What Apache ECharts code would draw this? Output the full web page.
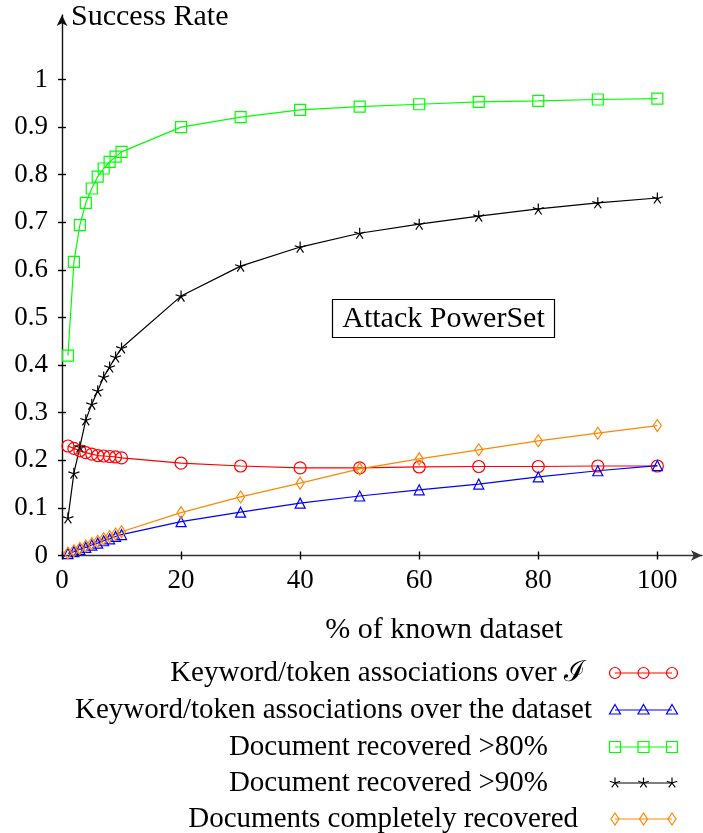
<!DOCTYPE html>
<html>
<head>
<meta charset="utf-8">
<script src="https://cdn.jsdelivr.net/npm/echarts@6/dist/echarts.min.js"></script>
<style>
  html, body { margin: 0; padding: 0; background: #fff; }
  #chart { width: 703px; height: 833px; }
</style>
</head>
<body>
<div id="chart"></div>
<script>
// Share of the dataset known to the attacker (%)
const knownPct = [1, 2, 3, 4, 5, 6, 7, 8, 9, 10, 20, 30, 40, 50, 60, 70, 80, 90, 100];

// Success rates per measure
const assocOverI = [0.230, 0.225, 0.220, 0.216, 0.213, 0.210, 0.209, 0.208, 0.207, 0.205,
                    0.194, 0.188, 0.184, 0.184, 0.186, 0.187, 0.187, 0.188, 0.188];
const assocOverDataset = [0.004, 0.008, 0.013, 0.017, 0.022, 0.026, 0.031, 0.035, 0.040, 0.044,
                          0.071, 0.091, 0.110, 0.125, 0.138, 0.150, 0.165, 0.178, 0.189];
const docRecovered80 = [0.420, 0.617, 0.694, 0.741, 0.771, 0.796, 0.813, 0.827, 0.838, 0.848,
                        0.900, 0.921, 0.936, 0.943, 0.948, 0.953, 0.955, 0.958, 0.960];
const docRecovered90 = [0.079, 0.173, 0.228, 0.285, 0.318, 0.346, 0.375, 0.396, 0.417, 0.436,
                        0.545, 0.608, 0.648, 0.677, 0.696, 0.713, 0.728, 0.741, 0.751];
const docsComplete = [0.005, 0.010, 0.015, 0.020, 0.025, 0.030, 0.035, 0.040, 0.045, 0.050,
                      0.090, 0.123, 0.152, 0.182, 0.203, 0.222, 0.241, 0.257, 0.273];

// Tick positions
const xTicks = [0, 20, 40, 60, 80, 100];
const yTicks = [0, 0.1, 0.2, 0.3, 0.4, 0.5, 0.6, 0.7, 0.8, 0.9, 1];

// Labels
const yAxisTitle = 'Success Rate';
const xAxisTitle = '% of known dataset';
const boxTitle = 'Attack PowerSet';
const seriesNames = [
  'Keyword/token associations over \u2110',
  'Keyword/token associations over the dataset',
  'Document recovered >80%',
  'Document recovered >90%',
  'Documents completely recovered'
];

const FONT = '"Liberation Serif", "DejaVu Serif", serif';
const STAR = 'path://M0,-1L0,0M0.951,-0.309L0,0M0.588,0.809L0,0M-0.588,0.809L0,0M-0.951,-0.309L0,0';

const styles = [
  { color: '#ff0000', symbol: 'circle', size: 12 },
  { color: '#0000ff', symbol: 'triangle', size: 10 },
  { color: '#00ff00', symbol: 'rect', size: 11 },
  { color: '#000000', symbol: STAR, size: 11 },
  { color: '#ff8800', symbol: 'diamond', size: [8, 12] }
];
const values = [assocOverI, assocOverDataset, docRecovered80, docRecovered90, docsComplete];

const series = values.map((vals, k) => ({
  name: seriesNames[k],
  type: 'line',
  xAxisIndex: 0,
  yAxisIndex: 0,
  data: knownPct.map((x, i) => [x, vals[i]]),
  symbol: styles[k].symbol,
  symbolSize: styles[k].size,
  showAllSymbol: true,
  lineStyle: { color: styles[k].color, width: 1.2 },
  itemStyle: { color: 'none', borderColor: styles[k].color, borderWidth: 1.2 },
  emphasis: { disabled: true },
  animation: false
}));

// Legend rows drawn as graphics: text on the left, line sample with three marks on the right
const legendRows = [673, 710, 747, 783, 819];
const legendTextRight = [586, 592, 548, 548, 578];
const sampleX = [615, 643.5, 672];

function markGraphic(k, cx, cy) {
  const c = styles[k].color;
  const st = { fill: 'none', stroke: c, lineWidth: 1.2 };
  switch (k) {
    case 0: return { type: 'circle', shape: { cx, cy, r: 5.5 }, style: st };
    case 1: return { type: 'polygon', shape: { points: [[cx, cy - 5.5], [cx + 5.5, cy + 4], [cx - 5.5, cy + 4]] }, style: st };
    case 2: return { type: 'rect', shape: { x: cx - 5.5, y: cy - 5.5, width: 11, height: 11 }, style: st };
    case 3: {
      const pts = [];
      for (let a = 0; a < 5; a++) {
        const ang = -Math.PI / 2 + a * 2 * Math.PI / 5;
        pts.push({ type: 'line', shape: { x1: cx, y1: cy, x2: cx + 5.5 * Math.cos(ang), y2: cy + 5.5 * Math.sin(ang) }, style: { stroke: c, lineWidth: 1.2 } });
      }
      return { type: 'group', children: pts };
    }
    default: return { type: 'polygon', shape: { points: [[cx, cy - 6], [cx + 4, cy], [cx, cy + 6], [cx - 4, cy]] }, style: st };
  }
}

const graphics = [
  { type: 'text', x: 71, y: 17, style: { text: yAxisTitle, font: '30px ' + FONT, fill: '#000', verticalAlign: 'middle' } },
  { type: 'text', x: 444, y: 630, style: { text: xAxisTitle, font: '30px ' + FONT, fill: '#000', align: 'center', verticalAlign: 'middle' } },
  { type: 'rect', shape: { x: 332.5, y: 299.5, width: 222, height: 38 }, style: { fill: '#fff', stroke: '#000', lineWidth: 1.2 }, z: 10 },
  { type: 'text', x: 443.5, y: 319, z: 11, style: { text: boxTitle, font: '30px ' + FONT, fill: '#000', align: 'center', verticalAlign: 'middle' } }
];
seriesNames.forEach((name, k) => {
  const y = legendRows[k];
  graphics.push({ type: 'text', x: legendTextRight[k], y: y, style: { text: name, font: '29px ' + FONT, fill: '#000', align: 'right', verticalAlign: 'middle' } });
  graphics.push({ type: 'line', shape: { x1: sampleX[0], y1: y, x2: sampleX[2], y2: y }, style: { stroke: styles[k].color, lineWidth: 1.2 } });
  sampleX.forEach(cx => graphics.push(markGraphic(k, cx, y)));
});

const labelStyle = { fontSize: 27, fontFamily: FONT, color: '#000' };

const chart = echarts.init(document.getElementById('chart'), null, { renderer: 'canvas' });
chart.setOption({
  animation: false,
  backgroundColor: '#fff',
  grid: { left: 62, right: 1, top: 15, bottom: 277.5, containLabel: false },
  xAxis: [
    {
      type: 'value', min: 0, max: 107.5,
      axisLine: { show: true, lineStyle: { color: '#333', width: 1.4 }, symbol: ['none', 'arrow'], symbolSize: [8, 11] },
      axisTick: { show: true, length: 4, customValues: xTicks, lineStyle: { color: '#000', width: 1.4 } },
      axisLabel: Object.assign({ customValues: xTicks, margin: 12 }, labelStyle),
      splitLine: { show: false }
    },
    {
      type: 'value', min: 0, max: 107.5, position: 'bottom',
      axisLine: { show: false },
      axisTick: { show: true, inside: true, length: 4, customValues: xTicks, lineStyle: { color: '#000', width: 1.4 } },
      axisLabel: { show: false },
      splitLine: { show: false }
    }
  ],
  yAxis: [
    {
      type: 'value', min: 0, max: 1.1355,
      axisLine: { show: true, lineStyle: { color: '#111', width: 1.4 }, symbol: ['none', 'arrow'], symbolSize: [8, 11] },
      axisTick: { show: true, length: 4, customValues: yTicks, lineStyle: { color: '#000', width: 1.4 } },
      axisLabel: Object.assign({
        customValues: yTicks, margin: 14,
        formatter: v => (v === 0 ? '0' : (Math.abs(v - 1) < 1e-9 ? '1' : v.toFixed(1)))
      }, labelStyle),
      splitLine: { show: false }
    },
    {
      type: 'value', min: 0, max: 1.1355, position: 'left',
      axisLine: { show: false },
      axisTick: { show: true, inside: true, length: 4, customValues: yTicks, lineStyle: { color: '#000', width: 1.4 } },
      axisLabel: { show: false },
      splitLine: { show: false }
    }
  ],
  series: series,
  graphic: graphics
});
</script>
</body>
</html>
